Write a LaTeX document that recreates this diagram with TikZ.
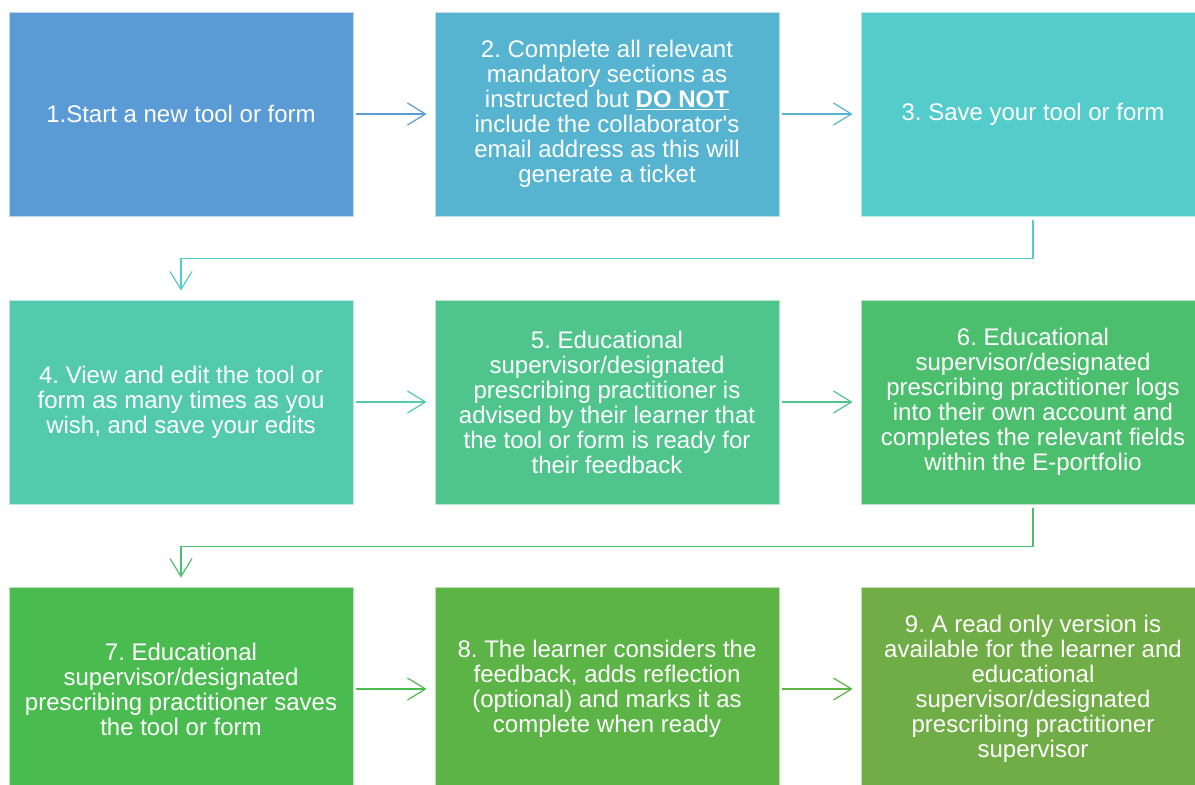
\documentclass[tikz,border=0pt]{standalone}
\usepackage{fontspec}
\setmainfont{Liberation Sans}[Ligatures=TeXOff]
\usepackage{tikz}
\usetikzlibrary{arrows.meta,positioning,calc}
\definecolor{cOne}  {HTML}{5B9BD5}
\definecolor{cTwo}  {HTML}{56B4D1}
\definecolor{cThree}{HTML}{55CCCC}
\definecolor{cFour} {HTML}{53CAAE}
\definecolor{cFive} {HTML}{4FC58D}
\definecolor{cSix}  {HTML}{4CBF6E}
\definecolor{cSeven}{HTML}{4ABB4F}
\definecolor{cEight}{HTML}{5CB447}
\definecolor{cNine} {HTML}{70AD47}
\tikzset{
  stage/.style ={draw=white!60!#1,fill=#1,line width=0.8pt,text=white,align=center,
                 minimum width=344pt,minimum height=204pt,inner sep=0pt,
                 font=\fontsize{24}{25}\selectfont\frenchspacing},
  sig/.style   ={-{Straight Barb[length=18pt,width=22pt]},draw=#1,line width=1.2pt},
}

\begin{document}
\begin{tikzpicture}[x=1pt, y=-1pt]
\clip (0,0) rectangle (1195,785);
\fill[white] (0,0) rectangle (1195,785);

% --- first row ---------------------------------------------------------
\node[stage=cOne]   (s1) at (181,114)  {1.Start a new tool or form};
\node[stage=cTwo]   (s2) at (607,114)  {2. Complete all relevant\\ mandatory sections as\\
  instructed but \underline{\textbf{DO NOT}}\\ include the collaborator's\\
  email address as this will\\ generate a ticket};
\node[stage=cThree] (s3) at (1033,114) {3. Save your tool or form};

% --- second row --------------------------------------------------------
\node[stage=cFour]  (s4) at (181,402)  {4. View and edit the tool or\\ form as many times as you\\
  wish, and save your edits};
\node[stage=cFive]  (s5) at (607,402)  {5. Educational\\ supervisor/designated\\
  prescribing practitioner is\\ advised by their learner that\\
  the tool or form is ready for\\ their feedback};
\node[stage=cSix]   (s6) at (1033,402) {6. Educational\\ supervisor/designated\\
  prescribing practitioner logs\\ into their own account and\\
  completes the relevant fields\\ within the E-portfolio};

% --- third row ---------------------------------------------------------
\node[stage=cSeven] (s7) at (181,689)  {7. Educational\\ supervisor/designated\\
  prescribing practitioner saves\\ the tool or form};
\node[stage=cEight] (s8) at (607,689)  {8. The learner considers the\\ feedback, adds reflection\\
  (optional) and marks it as\\ complete when ready};
\node[stage=cNine]  (s9) at (1033,689) {9. A read only version is\\ available for the learner and\\
  educational\\ supervisor/designated\\ prescribing practitioner\\ supervisor};

% --- connectors within a row ---------------------------------------------
\draw[sig=cOne]   ([xshift=3pt]s1.east) -- ([xshift=-8pt]s2.west);
\draw[sig=cTwo]   ([xshift=3pt]s2.east) -- ([xshift=-8pt]s3.west);
\draw[sig=cFour]  ([xshift=3pt]s4.east) -- ([xshift=-8pt]s5.west);
\draw[sig=cFive]  ([xshift=3pt]s5.east) -- ([xshift=-8pt]s6.west);
\draw[sig=cSeven] ([xshift=3pt]s7.east) -- ([xshift=-8pt]s8.west);
\draw[sig=cEight] ([xshift=3pt]s8.east) -- ([xshift=-8pt]s9.west);

% --- row wrap-around elbows ------------------------------------------------
\draw[sig=cThree] ([yshift=-4pt]s3.south) -- ++(0,38) -| ([yshift=9pt]s4.north);
\draw[sig=cSix]   ([yshift=-4pt]s6.south) -- ++(0,38) -| ([yshift=9pt]s7.north);

\end{tikzpicture}
\end{document}
